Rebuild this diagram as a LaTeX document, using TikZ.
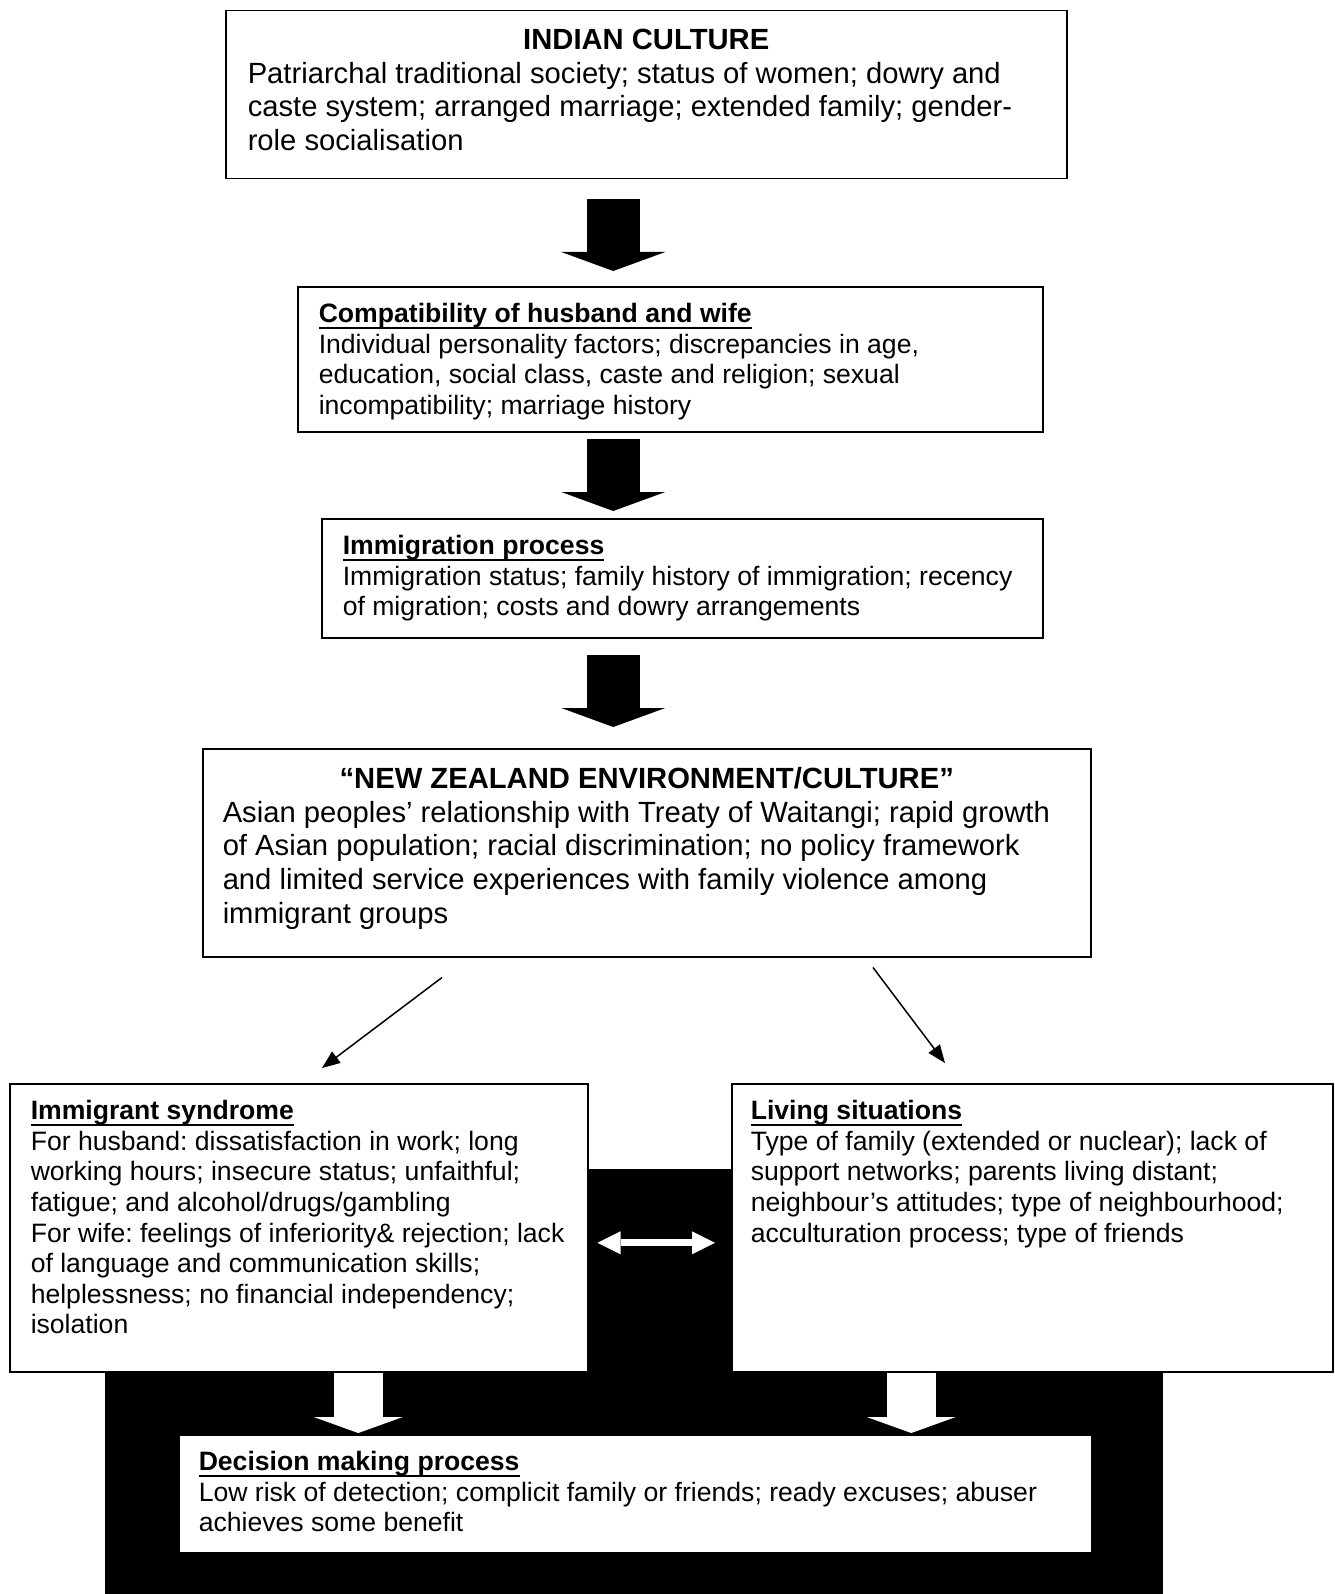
\documentclass[tikz,border=0pt]{standalone}
\usepackage{fontspec}
\setmainfont{Liberation Sans}
\usetikzlibrary{arrows.meta, calc}
\frenchspacing

\newcommand{\boxtext}[4]{\parbox[c][#1][t]{#2}{\raggedright\leftskip=#3\relax #4}}
\newcommand{\boxtitle}[1]{\rule{0pt}{18pt}\setbox0\hbox{\textbf{#1}}\rlap{\rule[-3pt]{\wd0}{1pt}}\box0\\}

\begin{document}
\begin{tikzpicture}[x=0.5pt, y=-0.5pt,
                box/.style={draw=black, line width=0.75pt, fill=white, rectangle, inner sep=0pt, anchor=north west},
                bigfont/.style={font=\fontsize{14.6}{16.8}\selectfont},
                smallfont/.style={font=\fontsize{13.3}{15.3}\selectfont},
                blockarrow/.style={line width=26.5pt, -{Triangle[width=52pt,length=9.5pt,line width=0pt]}},
                whitearrow/.style={white, line width=24.5pt, -{Triangle[width=44.5pt,length=8pt,line width=0pt]}},
                linkarrow/.style={line width=0.75pt, -{Triangle[width=7pt,length=9pt]}},
                swaparrow/.style={white, line width=3.5pt, {Triangle[width=11.5pt,length=11.5pt,line width=0pt]}-{Triangle[width=11.5pt,length=11.5pt,line width=0pt]}}
            ]
            \useasboundingbox (0,0) rectangle (1334,1594);

            % black ground behind the lower part
            \fill[black] (105,1169) rectangle (1163,1594);

            % boxes
            \node[box, bigfont] (culture) at (225,10) {\boxtext{84pt}{420.5pt}{11pt}{%
                {\centering\rule{0pt}{19.5pt}\textbf{INDIAN CULTURE}\par}
                Patriarchal traditional society; status of women; dowry and\\
                caste system; arranged marriage; extended family; gender-\\
                role socialisation}};
            \node[box, smallfont] (compat) at (297,286) {\boxtext{72.5pt}{372.5pt}{10.5pt}{%
                \boxtitle{Compatibility of husband and wife}
                Individual personality factors; discrepancies in age,\\
                education, social class, caste and religion; sexual\\
                incompatibility; marriage history}};
            \node[box, smallfont] (immig) at (321,518) {\boxtext{59.5pt}{360.5pt}{10.5pt}{%
                \boxtitle{Immigration process}
                Immigration status; family history of immigration; recency\\
                of migration; costs and dowry arrangements}};
            \node[box, bigfont] (nzenv) at (202,748) {\boxtext{104pt}{444pt}{10pt}{%
                {\centering\rule{0pt}{20pt}\textbf{“NEW ZEALAND ENVIRONMENT/CULTURE”}\par}
                Asian peoples’ relationship with Treaty of Waitangi; rapid growth\\
                of Asian population; racial discrimination; no policy framework\\
                and limited service experiences with family violence among\\
                immigrant groups}};
            \node[box, smallfont] (syndrome) at (9,1083) {\boxtext{144pt}{289pt}{10.5pt}{%
                \boxtitle{Immigrant syndrome}
                For husband: dissatisfaction in work; long\\
                working hours; insecure status; unfaithful;\\
                fatigue; and alcohol/drugs/gambling\\
                For wife: feelings of inferiority\& rejection; lack\\
                of language and communication skills;\\
                helplessness; no financial independency;\\
                isolation}};
            \node[box, smallfont] (living) at (731,1083) {\boxtext{144pt}{300.5pt}{9.5pt}{%
                \boxtitle{Living situations}
                Type of family (extended or nuclear); lack of\\
                support networks; parents living distant;\\
                neighbour’s attitudes; type of neighbourhood;\\
                acculturation process; type of friends}};
            \node[box, smallfont] (decision) at (178,1434) {\boxtext{59pt}{456.5pt}{10pt}{%
                \boxtitle{Decision making process}
                Low risk of detection; complicit family or friends; ready excuses; abuser\\
                achieves some benefit}};

            % arrows
            \draw[blockarrow] ($(culture.south)+(-33,20)$) -- ($(compat.north)+(-57,-15)$);
            \draw[blockarrow] ($(compat.south)+(-57,6)$) -- ($(immig.north)+(-69,-7)$);
            \draw[blockarrow] ($(immig.south)+(-69,16)$) -- ($(nzenv.north)+(-33.5,-21)$);
            \draw[linkarrow] ($(nzenv.south west)+(240,20)$) -- ($(syndrome.north west)+(313,-15)$);
            \draw[linkarrow] ($(nzenv.south west)+(671,10)$) -- ($(living.north west)+(214,-20)$);
            \draw[swaparrow] ($(syndrome.east)+(9,15)$) -- ($(living.west)+(-16,15)$);
            \draw[whitearrow] ($(syndrome.south)+(59.5,0)$) -- ($(decision.north)+(-277,-1)$);
            \draw[whitearrow] ($(living.south)+(-121,0)$) -- ($(decision.north)+(276,-1)$);

        \end{tikzpicture}
\end{document}
